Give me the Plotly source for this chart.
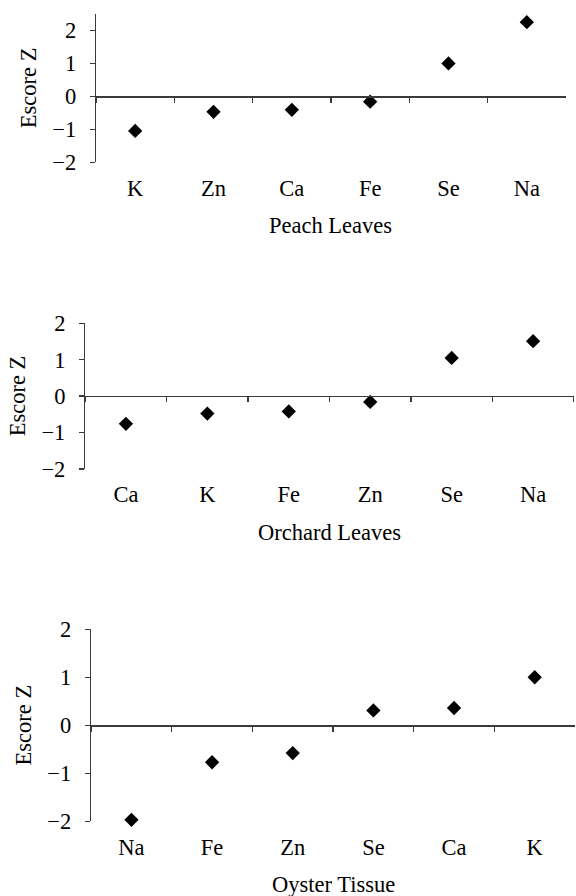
import plotly.graph_objects as go

# ---- data ----
peach_elements = ["K", "Zn", "Ca", "Fe", "Se", "Na"]
peach_z = [-1.05, -0.47, -0.41, -0.16, 1.00, 2.25]

orchard_elements = ["Ca", "K", "Fe", "Zn", "Se", "Na"]
orchard_z = [-0.76, -0.48, -0.42, -0.16, 1.05, 1.51]

oyster_elements = ["Na", "Fe", "Zn", "Se", "Ca", "K"]
oyster_z = [-1.97, -0.77, -0.58, 0.31, 0.36, 1.00]

y_title = "Escore Z"

panels = [
    dict(elements=peach_elements, z=peach_z, title="Peach Leaves",
         yrange=[-2, 2.5], xdom=[0.1667, 0.9826], ydom=[0.8189, 0.9844]),
    dict(elements=orchard_elements, z=orchard_z, title="Orchard Leaves",
         yrange=[-2, 2], xdom=[0.1479, 0.9962], ydom=[0.4766, 0.6392]),
    dict(elements=oyster_elements, z=oyster_z, title="Oyster Tissue",
         yrange=[-2, 2], xdom=[0.1582, 0.9983], ydom=[0.0834, 0.2977]),
]

FONT = dict(family="Liberation Serif", size=22.5, color="black")
AXC = "#3a3a3a"

fig = go.Figure()
layout = dict(
    width=576, height=896,
    margin=dict(l=0, r=0, t=0, b=0, pad=0),
    paper_bgcolor="white", plot_bgcolor="white",
    showlegend=False, font=FONT,
    annotations=[],
)

for i, p in enumerate(panels):
    n = i + 1
    xa = "x" if n == 1 else f"x{n}"
    ya = "y" if n == 1 else f"y{n}"
    zn = n + 3
    za = f"x{zn}"
    ncat = len(p["elements"])

    fig.add_trace(go.Scatter(
        x=p["elements"], y=p["z"], xaxis=xa, yaxis=ya, mode="markers",
        marker=dict(symbol="diamond", size=11, color="black"),
        cliponaxis=False, showlegend=False))
    fig.add_trace(go.Scatter(
        x=p["elements"], y=p["z"], xaxis=za, yaxis=ya, mode="markers",
        marker=dict(symbol="diamond", size=11, color="black", opacity=0),
        cliponaxis=False, showlegend=False, hoverinfo="skip"))

    y0 = p["ydom"][0] + (0 - p["yrange"][0]) / (p["yrange"][1] - p["yrange"][0]) * (p["ydom"][1] - p["ydom"][0])

    # category labels axis (bottom)
    layout["xaxis" if n == 1 else f"xaxis{n}"] = dict(
        domain=p["xdom"], anchor=ya, type="category",
        categoryorder="array", categoryarray=p["elements"],
        range=[-0.5, ncat - 0.5], showline=False, ticks="",
        showgrid=False, zeroline=False, tickfont=FONT, ticklabelstandoff=10,
        automargin=False,
    )
    # axis line drawn at y = 0 with boundary ticks
    layout[f"xaxis{zn}"] = dict(
        domain=p["xdom"], overlaying=xa, anchor="free", position=y0,
        type="category", categoryorder="array", categoryarray=p["elements"],
        range=[-0.5, ncat - 0.5], showline=True, linecolor=AXC, linewidth=1.3,
        ticks="outside", tickson="boundaries", ticklen=5, tickcolor=AXC,
        tickwidth=1.3, showticklabels=False, showgrid=False, zeroline=False,
        automargin=False,
    )
    layout["yaxis" if n == 1 else f"yaxis{n}"] = dict(
        domain=p["ydom"], anchor=xa, range=p["yrange"], tick0=0, dtick=1,
        showline=True, linecolor=AXC, linewidth=1.3, ticks="outside",
        ticklen=5, tickcolor=AXC, tickwidth=1.3, showgrid=False,
        zeroline=False, tickfont=FONT, ticklabelstandoff=9, automargin=False,
    )
    layout["annotations"].append(dict(
        text=p["title"], xref=f"{xa} domain", yref=f"{ya} domain",
        x=0.5, y=0, yshift=-63.5, xanchor="center", yanchor="middle",
        showarrow=False, font=FONT))
    layout["annotations"].append(dict(
        text=y_title, xref=f"{xa} domain", yref=f"{ya} domain",
        x=0, y=0.5, xshift=-68, xanchor="center", yanchor="middle",
        textangle=-90, showarrow=False, font=FONT))

fig.update_layout(**layout)

page_fix = (
    "document.documentElement.style.margin='0';"
    "document.body.style.margin='0';document.body.style.padding='0';"
    "document.body.style.overflow='hidden';"
    "var d=document.getElementById('{plot_id}');"
    "d.style.position='absolute';d.style.left='0px';d.style.top='0px';"
)
fig.write_html("out.html", post_script=page_fix,
               config={"displayModeBar": False, "staticPlot": True})
